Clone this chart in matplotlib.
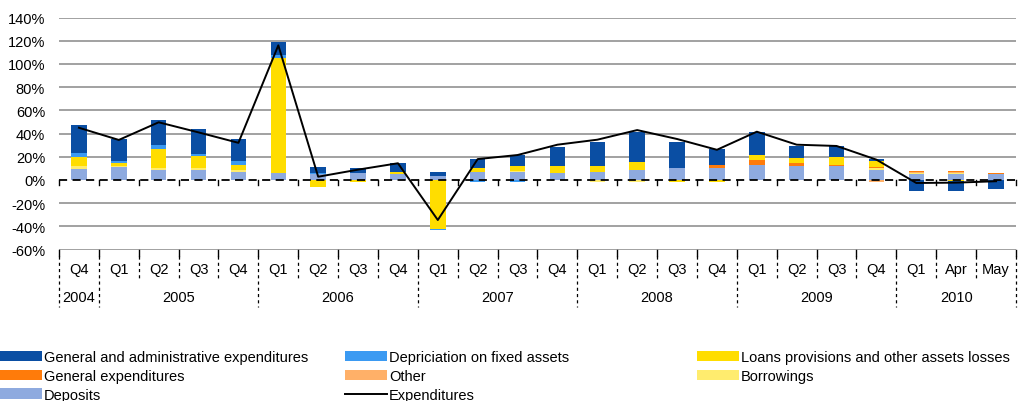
import matplotlib
matplotlib.use("Agg")
import matplotlib.pyplot as plt
from matplotlib.patches import Patch
from matplotlib.lines import Line2D
import numpy as np

plt.rcParams['font.family'] = ['Liberation Sans', 'DejaVu Sans']

quarters = ["Q4", "Q1", "Q2", "Q3", "Q4", "Q1", "Q2", "Q3", "Q4", "Q1", "Q2", "Q3", "Q4",
            "Q1", "Q2", "Q3", "Q4", "Q1", "Q2", "Q3", "Q4", "Q1", "Apr", "May"]
years = ["2004", "2005", "2006", "2007", "2008", "2009", "2010"]
year_counts = [1, 4, 4, 4, 4, 4, 3]

deposits = [9.5, 11.5, 9.0, 8.6, 7.2, 6.0, 5.5, 6.0, 5.5, 3.7, 6.6, 6.6, 6.0, 7.2, 8.9, 10.3,
            10.1, 13.2, 11.8, 11.8, 8.9, 5.5, 5.5, 5.0]
borrowings = [2.3, 0.5, 1.3, 1.4, 1.4, 0, 0, 0, 0, 0, 0.6, 1.1, 0, -2.0, -1.5, 0,
              0, 0, 0, 0, 1.1, 0.7, 0.7, 0]
other = [0, 0, 0, 0, 0, 0, 0, 0, 0, 0, 0, 0, 0, 0, 0, 0,
         0, 0, 0, 0, -1.8, 0.6, 0.6, 0]
general_exp = [0, 0, 0, 0, 0, 0, 0, 0, 0, 0, 0, 0, 0, 0, 0, 0,
               3.1, 4.0, 2.6, 1.4, 1.0, 0.7, 0.7, 1.3]
loans = [8.2, 3.0, 16.4, 11.0, 4.6, 98.8, -6.3, -2.0, 1.1, -42.2, 3.1, 4.1, 5.8, 4.6, 6.9, -2.0,
         -2.0, 4.3, 4.3, 6.8, 5.5, 0, -1.0, 0]
depreciation = [3.0, 1.0, 3.3, 1.4, 2.8, 2.9, 0.5, 0, 0, -1.3, -2.0, -2.0, 0, 0, 0, 0,
                0, 0, 0, 0, 0, 0, 0, 0]
gen_admin = [24.6, 19.0, 22.0, 21.3, 19.3, 10.9, 5.5, 4.0, 7.8, 3.5, 7.7, 9.7, 16.2, 20.7, 25.2, 22.2,
             13.5, 19.5, 10.9, 9.3, 1.8, -9.2, -8.2, -7.8]
expenditures = [45, 34.5, 49.7, 41, 32, 116, 2.8, 8.9, 14.4, -34.5, 18, 21.5, 30.4, 34.7, 43, 35.3,
                26, 41.6, 30.4, 29.3, 17.5, -2.6, -2.3, -1.1]

series = [
    ("Deposits", deposits, "#8EAADF"),
    ("Borrowings", borrowings, "#FFEC6E"),
    ("Other", other, "#FFB068"),
    ("General expenditures", general_exp, "#FF7B0A"),
    ("Loans provisions and other assets losses", loans, "#FFDD00"),
    ("Depriciation on fixed assets", depreciation, "#3B9AF2"),
    ("General and administrative expenditures", gen_admin, "#0A4EA3"),
]

W, H = 1020, 402
fig = plt.figure(figsize=(W / 100, H / 100), dpi=100)
ax_left, ax_right = 59, 1016
ax_top, ax_bot = 18.5, 250.6
ax = fig.add_axes([ax_left / W, 1 - ax_bot / H, (ax_right - ax_left) / W, (ax_bot - ax_top) / H])

n = len(quarters)
x = np.arange(n)
pos_base = np.zeros(n)
neg_base = np.zeros(n)
handles = {}
for name, vals, col in series:
    v = np.array(vals, dtype=float)
    pos = np.where(v > 0, v, 0)
    neg = np.where(v < 0, v, 0)
    ax.bar(x, pos, bottom=pos_base, width=0.39, color=col, linewidth=0, zorder=3)
    ax.bar(x, neg, bottom=neg_base, width=0.39, color=col, linewidth=0, zorder=3)
    pos_base += pos
    neg_base += neg
    handles[name] = Patch(facecolor=col, edgecolor='none')

ax.plot(x, expenditures, color="black", lw=1.4, zorder=5)
handles["Expenditures"] = Line2D([], [], color="black", lw=1.4)

ax.set_xlim(-0.5, n - 0.5)
ax.set_ylim(-60, 140)
yt = np.arange(-60, 141, 20)
ax.set_yticks(yt)
ax.set_yticklabels([f"{v}%" for v in yt], fontsize=10.5)
ax.tick_params(axis='y', length=0, pad=10)
ax.set_xticks([])
for s in ax.spines.values():
    s.set_visible(False)
for v in yt:
    if v != 0:
        ax.axhline(v, color="#9A9A9A", lw=1.3, zorder=1)
ax.axhline(0, color="black", lw=1.3, ls=(0, (4.5, 3)), zorder=4)

# ticks on zero line
ph = (ax_bot - ax_top)
for k in range(n + 1):
    ax.plot([k - 0.5, k - 0.5], [0, -5 / 1.1607], color="black", lw=1.0, zorder=4, clip_on=False)

xt = ax.get_xaxis_transform()
def ay(px):
    return (ax_bot - px) / ph

year_bounds = set(np.cumsum([0] + year_counts).tolist())
for k in range(n + 1):
    xb = k - 0.5
    ax.plot([xb, xb], [ay(250.6), ay(257)], color="black", lw=1.0, transform=xt, clip_on=False)
    bottom = 308 if k in year_bounds else 280
    ax.plot([xb, xb], [ay(257), ay(bottom)], color="black", lw=0.9, ls=(0, (2.5, 2.5)),
            transform=xt, clip_on=False)

for i, q in enumerate(quarters):
    ax.text(i, ay(270), q, transform=xt, ha="center", va="center", fontsize=10.5)
start = 0
for yr, c in zip(years, year_counts):
    ax.text(start + (c - 1) / 2, ay(298), yr, transform=xt, ha="center", va="center", fontsize=10.5)
    start += c

cols = [
    (["General and administrative expenditures", "General expenditures", "Deposits"], 0),
    (["Depriciation on fixed assets", "Other", "Expenditures"], 345),
    (["Loans provisions and other assets losses", "Borrowings"], 697),
]
for names, px in cols:
    fig.legend([handles[nm] for nm in names], names, loc="upper left",
               bbox_to_anchor=(px / W, 1 - 351 / H), frameon=False, fontsize=10.5,
               handlelength=2.9, handleheight=0.7, handletextpad=0.1, labelspacing=0.33,
               borderpad=0, borderaxespad=0)

fig.savefig("out.png", dpi=100)
